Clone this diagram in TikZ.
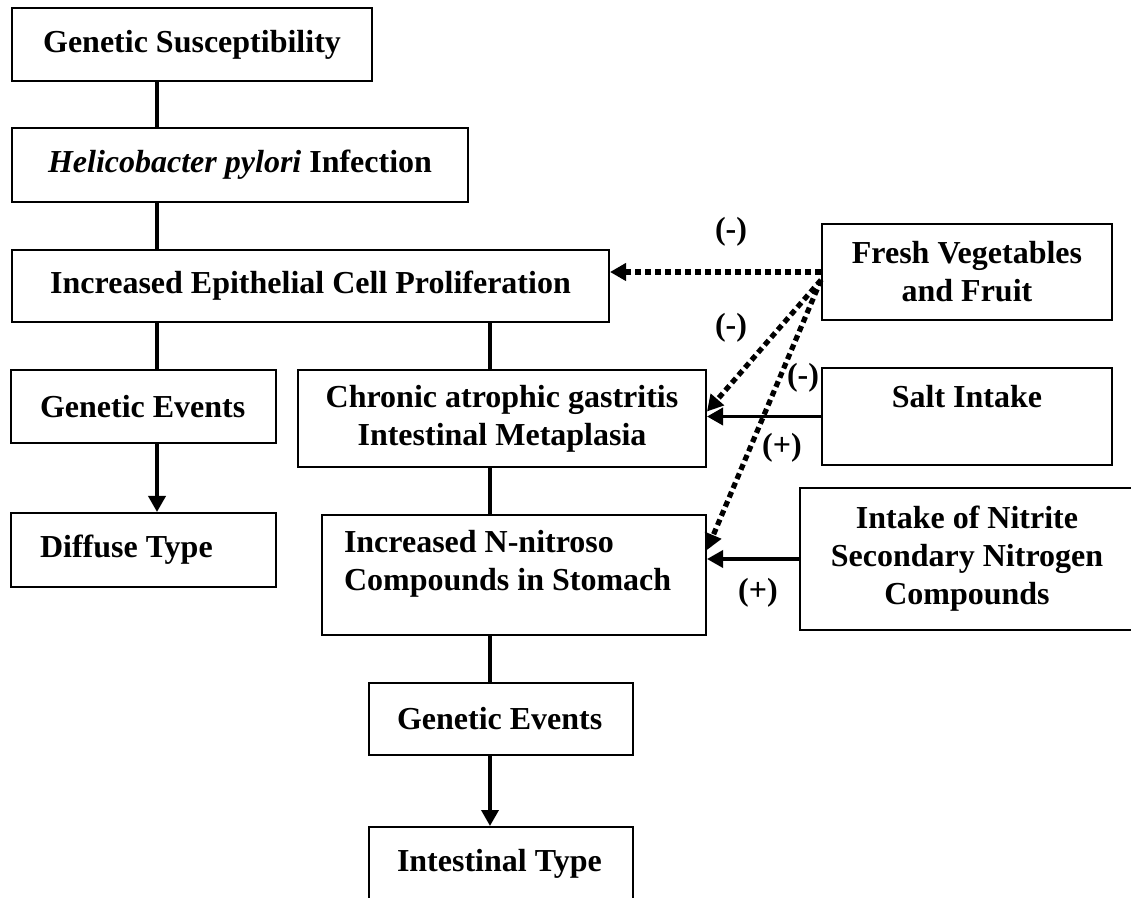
\documentclass[tikz,border=0pt]{standalone}
\usepackage{fontspec}
\setmainfont{Liberation Serif}
\usetikzlibrary{arrows.meta,calc}

\begin{document}
\begin{tikzpicture}[x=0.5pt,y=-0.5pt,>={Triangle[length=8pt,width=8.5pt]},
    box/.style={draw,line width=1pt,inner sep=0pt,align=center,
      font=\fontsize{16}{19}\selectfont\bfseries},
    leftbox/.style={box,align=flush left,inner xsep=14.5pt,text width=103.5pt},
    link/.style={line width=1.8pt},
    dots/.style={line width=2.6pt,dash pattern=on 3pt off 2pt},
    sign/.style={font=\fontsize{16}{19}\selectfont\bfseries,inner sep=0pt}]

  \useasboundingbox (0,0) rectangle (1131,898);
  \clip (0,0) rectangle (1131,898);

  \node[box,minimum width=180pt,minimum height=36.5pt] (gs)  at (192,44.5) {Genetic Susceptibility};
  \node[box,minimum width=228pt,minimum height=37pt]   (hp)  at (240,165)  {\textit{Helicobacter pylori} Infection};
  \node[box,minimum width=298.5pt,minimum height=36pt] (epi) at (310.5,286) {Increased Epithelial Cell Proliferation};
  \node[leftbox,minimum height=36.5pt] (ge1)  at (143.5,406.5) {Genetic Events};
  \node[leftbox,minimum height=37pt]   (diff) at (143.5,550)   {Diffuse Type};
  \node[box,minimum width=204pt,minimum height=48.5pt] (cag) at (502,418.5)
       {Chronic atrophic gastritis\\Intestinal Metaplasia};
  \node[box,align=flush left,text width=170pt,inner xsep=11pt,minimum height=60pt] (nit) at (514,575)
       {Increased N-nitroso\\Compounds in Stomach\\[-4pt]\mbox{}};
  \node[leftbox,text width=104pt,inner xsep=14pt,minimum height=36pt] (ge2)   at (501,719) {Genetic Events};
  \node[leftbox,text width=104pt,inner xsep=14pt,minimum height=37pt] (intes) at (501,864) {Intestinal Type};

  \node[box,minimum width=145pt,minimum height=48pt]   (veg)  at (967,272)   {Fresh Vegetables\\and Fruit};
  \node[box,minimum width=145pt,minimum height=48.5pt] (salt) at (967,416.5) {Salt Intake\\[1.5pt]\mbox{}};
  \node[box,minimum width=167pt,minimum height=71pt]   (nitrite) at (967,559)
       {Intake of Nitrite\\Secondary Nitrogen\\Compounds};

  \coordinate (lx) at (157,0);
  \coordinate (mx) at (490,0);

  \draw[link]    (gs.south -| lx)  -- (hp.north -| lx);
  \draw[link]    (hp.south -| lx)  -- (epi.north -| lx);
  \draw[link]    (epi.south -| lx) -- (ge1.north -| lx);
  \draw[link,->] (ge1.south -| lx) -- (diff.north -| lx);
  \draw[link]    (epi.south -| mx) -- (cag.north -| mx);
  \draw[link]    (cag.south -| mx) -- (nit.north -| mx);
  \draw[link]    (nit.south -| mx) -- (ge2.north -| mx);
  \draw[link,->] (ge2.south -| mx) -- (intes.north -| mx);

  \draw[dots,->] (veg.west) -- (veg.west -| epi.east);
  \draw[dots,->] ($(veg.west)+(0,8)$) -- ($(cag.east)+(0,-7)$);
  \draw[dots,->] ($(veg.west)+(0,8)$) -- ($(nit.east)+(0,-25)$);
  \draw[link,->] (salt.west) -- (salt.west -| cag.east);
  \draw[link,->] (nitrite.west) -- (nitrite.west -| nit.east);

  \node[sign] (neg1) at (731,232) {(-)};
  \node[sign] (neg2) at (731,328) {(-)};
  \node[sign] (neg3) at (803,378) {(-)};
  \node[sign] (pos1) at (782,448) {(+)};
  \node[sign] (pos2) at (758,593) {(+)};
\end{tikzpicture}
\end{document}
